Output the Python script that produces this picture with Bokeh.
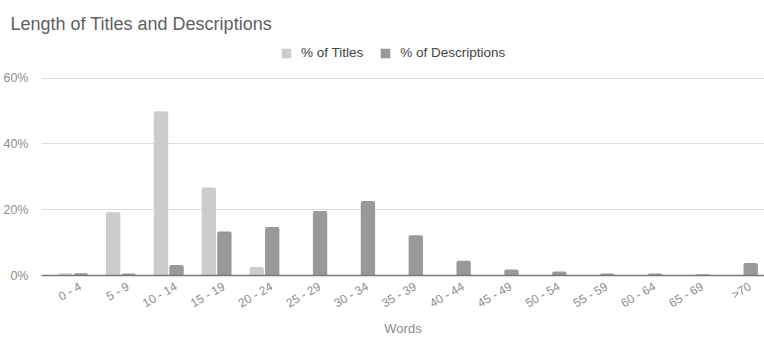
import numpy as np
from bokeh.plotting import figure
from bokeh.models import (ColumnDataSource, Range1d, FixedTicker, PrintfTickFormatter,
                          Legend, LegendItem)
from bokeh.transform import dodge
from bokeh.embed import file_html
from bokeh.resources import INLINE

# Word-count buckets and the share of titles / descriptions in each (percent)
categories = ["0 - 4", "5 - 9", "10 - 14", "15 - 19", "20 - 24", "25 - 29", "30 - 34",
              "35 - 39", "40 - 44", "45 - 49", "50 - 54", "55 - 59", "60 - 64",
              "65 - 69", ">70"]
pct_titles = [0.7, 19.2, 49.9, 26.7, 2.6, 0, 0, 0, 0, 0, 0, 0, 0, 0, 0]
pct_descriptions = [0.7, 0.6, 3.2, 13.4, 14.7, 19.6, 22.6, 12.2, 4.5, 1.8, 1.2,
                    0.6, 0.6, 0.4, 3.8]
y_ticks = [0, 20, 40, 60]

FONT = "Liberation Sans"
TITLE_COLOR = "#cccccc"
DESC_COLOR = "#999999"

source = ColumnDataSource(dict(
    idx=list(range(len(categories))),
    titles=pct_titles,
    descs=pct_descriptions,
))

# headroom above 60% holds the legend
p = figure(width=764, height=339, output_backend="svg", toolbar_location=None,
           x_range=Range1d(-0.66, 14.45), y_range=Range1d(0, 72),
           min_border_left=0, min_border_right=0, min_border_top=38,
           min_border_bottom=0)
p.outline_line_color = None
p.background_fill_color = "white"

p.title.text = "Length of Titles and Descriptions"
p.title.text_font = FONT
p.title.text_font_size = "18px"
p.title.text_font_style = "normal"
p.title.text_color = "#5f5f5f"
p.title.offset = -31

bar_w = 0.30
r_t = p.vbar(x=dodge("idx", -0.162), top="titles", width=bar_w, source=source,
             fill_color=TITLE_COLOR, line_color=None, border_radius=(2, 2, 0, 0))
r_d = p.vbar(x=dodge("idx", 0.162), top="descs", width=bar_w, source=source,
             fill_color=DESC_COLOR, line_color=None, border_radius=(2, 2, 0, 0))

# x axis: bucket names, slanted labels sit just right of each group's centre
label_shift = 0.15
tick_pos = [i + label_shift for i in range(len(categories))]
xa = p.xaxis[0]
xa.ticker = FixedTicker(ticks=tick_pos)
xa.major_label_overrides = {t: c for t, c in zip(tick_pos, categories)}
xa.major_label_orientation = np.pi / 6
xa.major_label_text_font = FONT
xa.major_label_text_font_size = "12px"
xa.major_label_text_color = "#8c8c8c"
xa.major_tick_line_color = None
xa.minor_tick_line_color = None
xa.axis_line_color = "#777777"
xa.axis_line_width = 1.5
xa.axis_label = "Words"
xa.axis_label_text_font = FONT
xa.axis_label_text_font_size = "13px"
xa.axis_label_text_font_style = "normal"
xa.axis_label_text_color = "#8c8c8c"
xa.axis_label_standoff = 2
xa.major_label_standoff = 4

# y axis: percentages
ya = p.yaxis[0]
ya.ticker = FixedTicker(ticks=y_ticks)
ya.formatter = PrintfTickFormatter(format="%d%%")
ya.major_label_text_font = FONT
ya.major_label_text_font_size = "12.5px"
ya.major_label_text_color = "#8c8c8c"
ya.major_tick_line_color = None
ya.minor_tick_line_color = None
ya.axis_line_color = None
ya.major_label_standoff = 7

p.xgrid.grid_line_color = None
p.ygrid.grid_line_color = "#dddddd"
p.ygrid.grid_line_width = 1

legend = Legend(items=[LegendItem(label="% of Titles", renderers=[r_t]),
                       LegendItem(label="% of Descriptions", renderers=[r_d])],
                orientation="horizontal", location=(239, 215),
                label_text_font=FONT, label_text_font_size="13.5px",
                label_text_color="#444444", glyph_width=12, glyph_height=12,
                spacing=16, label_standoff=9, padding=0, margin=0,
                border_line_color=None, background_fill_alpha=0)
p.add_layout(legend)

open("out.html", "w").write(file_html(p, INLINE))
